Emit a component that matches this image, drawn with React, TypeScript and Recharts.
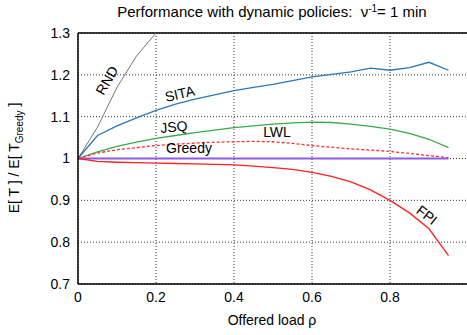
import { CartesianGrid, Line, LineChart, ReferenceLine, XAxis, YAxis } from "recharts";

const rho = [0, 0.05, 0.1, 0.15, 0.2, 0.25, 0.3, 0.35, 0.4, 0.45, 0.5, 0.55, 0.6, 0.65, 0.7, 0.75, 0.8, 0.85, 0.9, 0.95];
const rnd = [1, 1.075, 1.17, 1.245, 1.3];
const sita = [1, 1.055, 1.078, 1.097, 1.115, 1.13, 1.142, 1.152, 1.162, 1.17, 1.177, 1.186, 1.195, 1.201, 1.207, 1.216, 1.211, 1.217, 1.23, 1.211];
const jsq = [1, 1.016, 1.029, 1.039, 1.048, 1.055, 1.062, 1.068, 1.074, 1.078, 1.082, 1.085, 1.087, 1.086, 1.082, 1.077, 1.07, 1.06, 1.046, 1.026];
const lwl = [1, 1.013, 1.021, 1.026, 1.031, 1.034, 1.037, 1.039, 1.04, 1.041, 1.04, 1.036, 1.031, 1.027, 1.023, 1.02, 1.017, 1.012, 1.007, 1.002];
const greedy = [1, 1, 1, 1, 1, 1, 1, 1, 1, 1, 1, 1, 1, 1, 1, 1, 1, 1, 1, 1];
const fpi = [1, 0.993, 0.991, 0.99, 0.989, 0.988, 0.987, 0.986, 0.985, 0.982, 0.978, 0.974, 0.967, 0.957, 0.944, 0.925, 0.9, 0.87, 0.832, 0.768];

const xTicks = [0, 0.2, 0.4, 0.6, 0.8];
const yTicks = [0.7, 0.8, 0.9, 1, 1.1, 1.2, 1.3];

const data = rho.map((r, i) => ({
  rho: r,
  rnd: i < rnd.length ? rnd[i] : null,
  sita: sita[i],
  jsq: jsq[i],
  lwl: lwl[i],
  greedy: greedy[i],
  fpi: fpi[i],
}));

const font = "'Liberation Sans', Arial, Helvetica, sans-serif";
const tick = { fill: "#000", fontSize: 14, fontFamily: font };

export default function App() {
  return (
    <div
      style={{
        position: "absolute",
        left: 0,
        top: 0,
        width: 467,
        height: 335,
        overflow: "hidden",
        background: "#fff",
      }}
    >
      <LineChart
        width={480}
        height={335}
        data={data}
        margin={{ top: 33, right: 12, bottom: 0, left: 0 }}
      >
        <CartesianGrid stroke="#333" strokeDasharray="1 2" />
        <XAxis
          dataKey="rho"
          type="number"
          domain={[0, 1]}
          ticks={xTicks}
          tick={tick}
          tickLine={false}
          axisLine={{ stroke: "#000", strokeWidth: 1.5 }}
          height={51}
          interval={0}
        />
        <YAxis
          type="number"
          domain={[0.7, 1.3]}
          ticks={yTicks}
          tick={tick}
          tickLine={false}
          axisLine={{ stroke: "#000", strokeWidth: 1.5 }}
          width={78}
          interval={0}
          allowDataOverflow
        />
        <ReferenceLine y={1.3} stroke="#000" strokeWidth={1.5} />
        <Line dataKey="rnd" stroke="#777" strokeWidth={1} dot={false} isAnimationActive={false} />
        <Line dataKey="sita" stroke="#2a78b6" strokeWidth={1.3} dot={false} isAnimationActive={false} />
        <Line dataKey="jsq" stroke="#3aaa4a" strokeWidth={1.3} dot={false} isAnimationActive={false} />
        <Line dataKey="lwl" stroke="#ff3030" strokeWidth={1.3} strokeDasharray="3 2" dot={false} isAnimationActive={false} />
        <Line dataKey="greedy" stroke="#8a5ce6" strokeWidth={2.2} dot={false} isAnimationActive={false} />
        <Line dataKey="fpi" stroke="#ff2020" strokeWidth={1.3} dot={false} isAnimationActive={false} />
      </LineChart>
      <svg
        width={467}
        height={335}
        style={{ position: "absolute", left: 0, top: 0, pointerEvents: "none" }}
        fontFamily={font}
      >
        <text x={272} y={17} fontSize={15} textAnchor="middle">
          Performance with dynamic policies:{"\u00a0 "}ν<tspan dy={-5} fontSize={10}>-1</tspan>
          <tspan dy={5}>= 1 min</tspan>
        </text>
        <text x={272} y={325} fontSize={14} textAnchor="middle">
          Offered load ρ
        </text>
        <text transform="translate(19,158) rotate(-90)" fontSize={14} textAnchor="middle">
          E[ T ] / E[ T<tspan dy={4} fontSize={10}>Greedy</tspan>
          <tspan dy={-4}> ]</tspan>
        </text>
        <text transform="translate(108,81) rotate(-60)" fontSize={14} textAnchor="middle" dominantBaseline="middle">
          RND
        </text>
        <text transform="translate(180,95) rotate(-13)" fontSize={14} textAnchor="middle" dominantBaseline="middle">
          SITA
        </text>
        <text transform="translate(174,128) rotate(-5)" fontSize={14} textAnchor="middle" dominantBaseline="middle">
          JSQ
        </text>
        <text x={189} y={149} fontSize={14} textAnchor="middle" dominantBaseline="middle">
          Greedy
        </text>
        <text x={277} y={133} fontSize={14} textAnchor="middle" dominantBaseline="middle">
          LWL
        </text>
        <text transform="translate(426,216) rotate(38)" fontSize={14} textAnchor="middle" dominantBaseline="middle">
          FPI
        </text>
      </svg>
    </div>
  );
}
